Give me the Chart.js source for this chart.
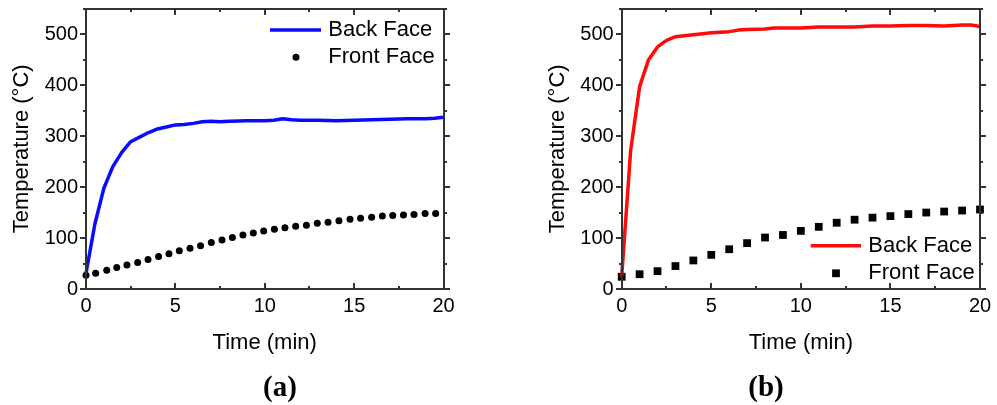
<!DOCTYPE html>
<html>
<head>
<meta charset="utf-8">
<script src="https://cdn.jsdelivr.net/npm/chart.js@4.4.1/dist/chart.umd.min.js"></script>
<style>
  body { margin: 0; background: #fff; width: 997px; height: 405px; position: relative; overflow: hidden; }
  canvas { position: absolute; top: 0; }
  .cap { position: absolute; top: 372px; font: bold 29px/29px 'Liberation Serif', 'Times New Roman', serif; transform: translateX(-50%); color: #000; }
</style>
</head>
<body>
<canvas id="chartA" width="470" height="405" style="left:0"></canvas>
<canvas id="chartB" width="462" height="405" style="left:535px"></canvas>
<div class="cap" style="left:280px">(a)</div>
<div class="cap" style="left:766px">(b)</div>

<script>
// (a) back face - continuous line
const backTimeA = [0, 0.5, 1, 1.5, 2, 2.5, 3, 3.5, 4, 4.5, 5, 5.5, 6, 6.5, 7, 7.5, 8, 9, 10, 10.5, 11, 11.5, 12, 13, 14, 15, 16, 17, 18, 19, 19.5, 20];
const backTempA = [31, 128, 198, 240, 268, 289, 298, 307, 314, 318, 322, 323, 325, 328, 329, 328, 329, 330, 330, 331, 334, 332, 331, 331, 330, 331, 332, 333, 334, 334, 335, 337];
// (a) front face - dots
const frontTimeA = [0, 0.54, 1.16, 1.72, 2.29, 2.89, 3.47, 4.06, 4.64, 5.22, 5.82, 6.41, 7.01, 7.61, 8.19, 8.78, 9.36, 9.94, 10.54, 11.13, 11.73, 12.33, 12.94, 13.54, 14.15, 14.77, 15.36, 15.98, 16.58, 17.16, 17.76, 18.35, 18.97, 19.56];
const frontTempA = [27, 31, 37, 42, 47, 52, 58, 64, 69, 75, 80, 85, 91, 96, 101, 106, 110, 114, 117, 120, 123, 125, 129, 131, 134, 137, 139, 141, 143, 144, 145, 146, 148, 148];

// (b) back face
const backTimeB = [0, 0.5, 1, 1.5, 2, 2.5, 3, 3.5, 4, 5, 6, 6.5, 7, 8, 8.5, 9, 10, 11, 12, 13, 14, 15, 16, 17, 18, 19, 19.5, 20];
const backTempB = [25, 272, 397, 450, 475, 488, 495, 497, 499, 503, 505, 508, 509, 510, 512, 512, 512, 514, 514, 514, 516, 516, 517, 517, 516, 518, 518, 515];
// (b) front face - squares
const frontTimeB = [0, 1, 2, 3, 4, 5, 6, 7, 8, 9, 10, 11, 12, 13, 14, 15, 16, 17, 18, 19, 20];
const frontTempB = [24, 29, 35, 45, 56, 67, 78, 90, 101, 106, 114, 122, 130, 136, 140, 143, 147, 150, 152, 154, 156];

const xTicks = [0, 5, 10, 15, 20];
const yTicks = [0, 100, 200, 300, 400, 500];
const seriesNames = ['Back Face', 'Front Face'];

const FONT = "'Liberation Sans', Arial, sans-serif";
const zip = (xs, ys) => xs.map((x, i) => ({ x, y: ys[i] }));

// box around the plot, x ticks inward, y ticks outward
const framePlugin = {
  id: 'frame',
  afterDraw(chart) {
    const { ctx, chartArea: a, scales } = chart;
    const L = Math.round(a.left), R = Math.round(a.right), T = Math.round(a.top), B = Math.round(a.bottom);
    ctx.save();
    ctx.strokeStyle = '#333';
    ctx.lineWidth = 2;
    ctx.beginPath();
    ctx.rect(L, T, R - L, B - T);
    xTicks.forEach((v, i) => {
      const px = Math.round(scales.x.getPixelForValue(v));
      ctx.moveTo(px, B); ctx.lineTo(px, B - 6);
      ctx.moveTo(px, T); ctx.lineTo(px, T + 6);
      if (i < xTicks.length - 1) {
        const mx = Math.round(scales.x.getPixelForValue((v + xTicks[i + 1]) / 2));
        ctx.moveTo(mx, B); ctx.lineTo(mx, B - 3);
        ctx.moveTo(mx, T); ctx.lineTo(mx, T + 3);
      }
    });
    yTicks.forEach(v => {
      const py = Math.round(scales.y.getPixelForValue(v));
      ctx.moveTo(L, py); ctx.lineTo(L - 6, py);
      ctx.moveTo(R, py); ctx.lineTo(R + 6, py);
      const my = Math.round(scales.y.getPixelForValue(v + 50));
      ctx.moveTo(L, my); ctx.lineTo(L - 3, my);
      ctx.moveTo(R, my); ctx.lineTo(R + 3, my);
    });
    ctx.stroke();
    ctx.restore();
  }
};

const legendPlugin = {
  id: 'faceLegend',
  afterDraw(chart, args, o) {
    const { ctx, chartArea: a } = chart;
    const ds = chart.data.datasets;
    const y1 = a.top + o.y1, y2 = a.top + o.y2;
    ctx.save();
    ctx.strokeStyle = ds[0].borderColor;
    ctx.lineWidth = ds[0].borderWidth;
    ctx.beginPath();
    ctx.moveTo(a.right + o.lineX1, y1);
    ctx.lineTo(a.right + o.lineX2, y1);
    ctx.stroke();
    ctx.fillStyle = '#000';
    const mx = a.right + o.markX, r = ds[1].pointRadius;
    if (ds[1].pointStyle === 'rect') {
      const s = r * Math.SQRT1_2;
      ctx.fillRect(mx - s, y2 - s, 2 * s, 2 * s);
    } else {
      ctx.beginPath(); ctx.arc(mx, y2, r, 0, Math.PI * 2); ctx.fill();
    }
    ctx.font = '22px ' + FONT;
    ctx.textBaseline = 'middle';
    ctx.fillText(ds[0].label, a.right + o.textX, y1);
    ctx.fillText(ds[1].label, a.right + o.textX, y2);
    ctx.restore();
  }
};

function makeChart(id, c) {
  return new Chart(document.getElementById(id), {
    type: 'scatter',
    data: {
      datasets: [
        { label: seriesNames[0], data: zip(c.backT, c.backV), showLine: true, borderColor: c.color,
          borderWidth: 3.5, pointRadius: 0, tension: 0, borderJoinStyle: 'round', clip: false },
        { label: seriesNames[1], data: zip(c.frontT, c.frontV), pointStyle: c.marker, pointRadius: c.r,
          backgroundColor: '#000', borderColor: '#000', borderWidth: 0, clip: false }
      ]
    },
    options: {
      responsive: false,
      animation: false,
      events: [],
      layout: { padding: { left: 0, right: c.padR, top: 8.7, bottom: 46 } },
      plugins: { legend: { display: false }, tooltip: { enabled: false }, faceLegend: c.legend },
      scales: {
        x: {
          type: 'linear', min: 0, max: 20,
          grid: { display: false, drawTicks: false }, border: { display: false },
          ticks: { stepSize: 5, color: '#000', font: { family: FONT, size: 20 }, padding: 5.7, maxRotation: 0 },
          title: { display: true, text: 'Time (min)', color: '#000', font: { family: FONT, size: 22 }, padding: { top: 0, bottom: 2.8 } },
          afterFit(s) { s.height = 70; s.paddingLeft = 0; s.paddingRight = 0; }
        },
        y: {
          type: 'linear', min: 0, max: 550,
          grid: { display: false, drawTicks: false }, border: { display: false },
          ticks: { stepSize: 100, color: '#000', font: { family: FONT, size: 20 }, padding: 8 },
          afterBuildTicks(s) { s.ticks = s.ticks.filter(t => yTicks.includes(t.value)); },
          title: { display: true, text: 'Temperature (°C)', color: '#000', font: { family: FONT, size: 22 }, padding: { top: c.titlePad, bottom: 0 } },
          afterFit(s) { s.width = c.yW; s.paddingTop = 0; s.paddingBottom = 0; }
        }
      }
    },
    plugins: [framePlugin, legendPlugin]
  });
}

makeChart('chartA', {
  backT: backTimeA, backV: backTempA, frontT: frontTimeA, frontV: frontTempA,
  color: '#0a0aff', marker: 'circle', r: 3.5, padR: 26.5, yW: 86, titlePad: 8.8,
  legend: { lineX1: -173.5, lineX2: -122.5, textX: -115.2, markX: -147.5, y1: 21.3, y2: 48.6 }
});

makeChart('chartB', {
  backT: backTimeB, backV: backTempB, frontT: frontTimeB, frontV: frontTempB,
  color: '#ff0a0a', marker: 'rect', r: 5.5, padR: 17, yW: 86.7, titlePad: 9.8,
  legend: { lineX1: -169.3, lineX2: -119, textX: -111.7, markX: -144, y1: 237, y2: 264.6 }
});
</script>
</body>
</html>
